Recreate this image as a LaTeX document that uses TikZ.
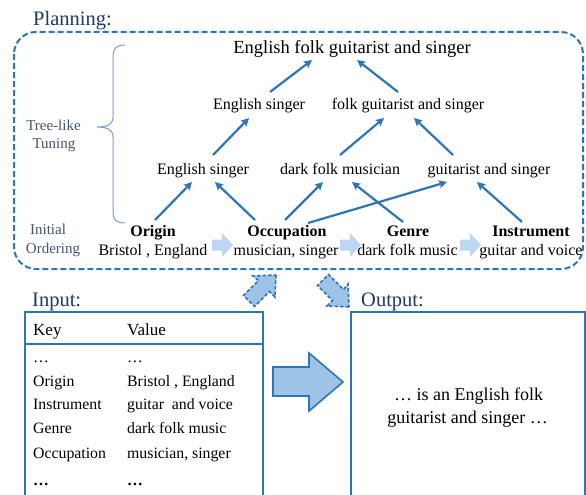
\documentclass[tikz,border=0pt]{standalone}
\usepackage{fontspec}
\setmainfont{Liberation Serif}
\usetikzlibrary{arrows.meta,calc}
\definecolor{mblue}{RGB}{46,117,182}
\definecolor{navy}{RGB}{31,56,100}
\definecolor{slate}{RGB}{68,84,106}
\definecolor{pale}{RGB}{189,215,238}
\definecolor{fillb}{RGB}{157,195,230}
\definecolor{bracec}{RGB}{125,155,205}
\tikzset{
  txt/.style={anchor=base, inner sep=0pt, font=\fontsize{16}{19}\selectfont},
  toptxt/.style={anchor=base, inner sep=0pt, font=\fontsize{18.5}{22}\selectfont},
  keytxt/.style={anchor=base, inner sep=0pt, font=\fontsize{17}{20}\selectfont},
  tbl/.style={anchor=base west, inner sep=0pt, font=\fontsize{15.8}{19}\selectfont},
  sidetxt/.style={anchor=base, inner sep=0pt, text=slate, font=\fontsize{15}{18}\selectfont},
  headtxt/.style={anchor=base west, inner sep=0pt, text=navy, font=\fontsize{20.5}{24}\selectfont},
  link/.style={draw=mblue, line width=2.2pt, -{Stealth[length=8pt,width=8pt,inset=1.5pt]}},
  palearrow/.style={fill=pale},
  dasharrow/.style={fill=fillb, draw=mblue, line width=1.6pt, dash pattern=on 3.5pt off 2pt},
  bigarrow/.style={fill=fillb, draw=mblue, line width=1.6pt},
  boxline/.style={draw=mblue, line width=1.8pt}
}
\begin{document}
\begin{tikzpicture}[x=1pt,y=-1pt]
\clip (0,0) rectangle (586,495);
\fill[white] (0,0) rectangle (586,495);

% planning frame
\draw[mblue, line width=2pt, dash pattern=on 6pt off 3pt, rounded corners=22pt] (14,32) rectangle (583,269);
\node[headtxt] (plan) at (33,26) {Planning:};

% brace
\draw[bracec, line width=1pt] (125,45) .. controls (116,45) and (113,48) .. (113,57) -- (113,117)
  .. controls (113,124) and (108,127) .. (97,127) .. controls (108,127) and (113,130) .. (113,137)
  -- (113,211) .. controls (113,220) and (116,223) .. (125,223);

\node[sidetxt] (tl1) at (53.5,130) {Tree-like};
\node[sidetxt] (tl2) at (54,148) {Tuning};
\node[sidetxt] (io1) at (48,234) {Initial};
\node[sidetxt] (io2) at (53,253) {Ordering};

% tree text
\node[toptxt] (top) at (352,54) {English folk guitarist and singer};
\node[txt] (es2) at (259,109) {English singer};
\node[txt] (fg2) at (408,109) {folk guitarist and singer};
\node[txt] (es1) at (203,174) {English singer};
\node[txt] (dfm) at (340,174) {dark folk musician};
\node[txt] (gs1) at (489,174) {guitarist and singer};
\node[txt, font=\fontsize{16}{19}\selectfont\bfseries] (orig) at (153,236) {Origin};
\node[txt] (origv) at (153,255) {Bristol , England};
\node[txt, font=\fontsize{16}{19}\selectfont\bfseries] (occ) at (287,236) {Occupation};
\node[txt] (occv) at (286,255) {musician, singer};
\node[txt, font=\fontsize{16}{19}\selectfont\bfseries] (gen) at (408,236) {Genre};
\node[txt] (genv) at (407.5,255) {dark folk music};
\node[txt, font=\fontsize{16}{19}\selectfont\bfseries] (ins) at (531,236) {Instrument};
\node[txt] (insv) at (531,255) {guitar and voice};

% pale ordering arrows
\foreach \xa in {212,340,460}{
  \fill[palearrow] (\xa,239.5) -- (\xa+10,239.5) -- (\xa+10,233) -- (\xa+21,245) -- (\xa+10,257) -- (\xa+10,250.5) -- (\xa,250.5) -- cycle;
}

% tree links
\draw[link] ($(orig.base)+(2,-16)$) -- ($(es1.base)+(-11,8)$);
\draw[link] ($(occ.base)+(-32,-16)$) -- ($(es1.base)+(12,8)$);
\draw[link] ($(occ.base)+(-2,-16)$) -- ($(dfm.base)+(-17,8)$);
\draw[link] ($(occ.base)+(21,-13)$) -- ($(gs1.base)+(-42,8)$);
\draw[link] ($(gen.base)+(-5,-14)$) -- ($(dfm.base)+(12,8)$);
\draw[link] ($(ins.base)+(-9,-14)$) -- ($(gs1.base)+(-12,8)$);
\draw[link] ($(es1.base)+(10,-19)$) -- ($(es2.base)+(-10,9)$);
\draw[link] ($(dfm.base)+(0,-19)$) -- ($(fg2.base)+(-24,9)$);
\draw[link] ($(gs1.base)+(-36,-19)$) -- ($(fg2.base)+(6,9)$);
\draw[link] ($(es2.base)+(11,-17)$) -- ($(top.base)+(-40,6)$);
\draw[link] ($(fg2.base)+(-10,-17)$) -- ($(top.base)+(5,6)$);

% dashed block arrows
\draw[dasharrow] (276,275) -- (275,297) -- (269.5,291.5) -- (254.5,306.5) -- (243.5,295.5) -- (258.5,280.5) -- (253,276) -- cycle;
\draw[dasharrow] (349,307) -- (327,306) -- (332.5,300.5) -- (317.5,285.5) -- (328.5,274.5) -- (343.5,289.5) -- (348,284) -- cycle;

% input
\node[headtxt] (inlab) at (32,306) {Input:};
\draw[boxline] (25,312) rectangle (263,520);
\draw[mblue, line width=1.3pt] (25,344) -- (263,344);
\node[tbl, font=\fontsize{17}{20}\selectfont] (kh) at (33,335) {Key};
\node[tbl, font=\fontsize{17}{20}\selectfont] (vh) at (127,335) {Value};
\node[tbl] (k0) at (33,362) {…};
\node[tbl] (v0) at (127,362) {…};
\node[tbl] (k1) at (33,386) {Origin};
\node[tbl] (v1) at (127,386) {Bristol , England};
\node[tbl] (k2) at (33,409) {Instrument};
\node[tbl] (v2) at (127,409) {guitar\ \ and voice};
\node[tbl] (k3) at (33,433) {Genre};
\node[tbl] (v3) at (127,433) {dark folk music};
\node[tbl] (k4) at (33,458) {Occupation};
\node[tbl] (v4) at (127,458) {musician, singer};
\node[tbl, font=\fontsize{15.8}{19}\selectfont\bfseries] (k5) at (33,485) {…};
\node[tbl, font=\fontsize{15.8}{19}\selectfont\bfseries] (v5) at (127,485) {…};

% big arrow
\draw[bigarrow] (273,367) -- (309,367) -- (309,353) -- (343,382) -- (309,411) -- (309,396) -- (273,396) -- cycle;

% output
\node[headtxt] (outlab) at (361,306) {Output:};
\draw[boxline] (351,312) rectangle (585,520);
\node[toptxt, font=\fontsize{18}{22}\selectfont] (o1) at (468.5,400) {… is an English folk};
\node[toptxt, font=\fontsize{18}{22}\selectfont] (o2) at (467.5,423) {guitarist and singer …};
\end{tikzpicture}
\end{document}
